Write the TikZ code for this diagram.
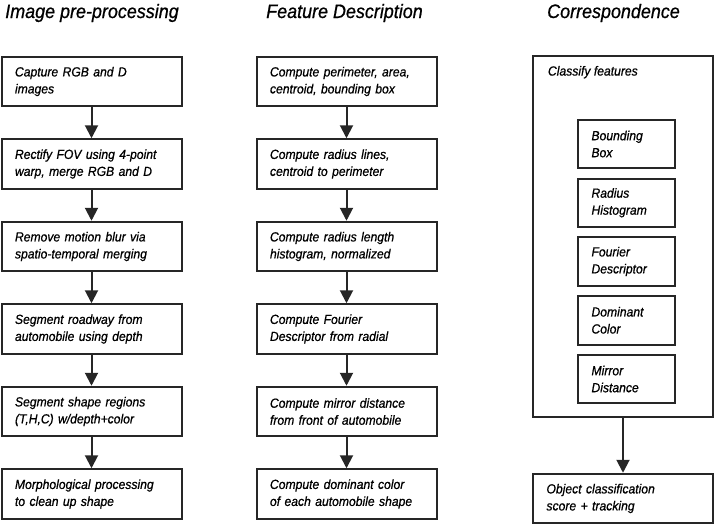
\documentclass[tikz,border=0pt]{standalone}
\usepackage{fontspec}
\setmainfont{Liberation Sans}[FakeStretch=0.92, FakeBold=0.7]
\usetikzlibrary{arrows.meta,positioning}

\begin{document}
\begin{tikzpicture}[
    x = 1pt, y = -1pt, % pixel grid, y pointing down
    > = {Triangle[width=13pt,length=13pt]}, % arrow head style
    node distance = 31pt, % gap between boxes
    line width = 2pt, % line style
    draw = black!85,
    stagebox/.style = {draw, rectangle, minimum width=180pt, minimum height=49.5pt,
        text width=153pt, inner xsep=13.5pt, align=left,
        font=\fontsize{13.2}{17}\selectfont\itshape},
    featbox/.style = {draw, rectangle, minimum width=97pt, minimum height=48.5pt,
        text width=70pt, inner xsep=13.5pt, align=left,
        font=\fontsize{13.2}{17}\selectfont\itshape},
    coltitle/.style = {anchor=base, font=\fontsize{19.5}{22}\selectfont\itshape}
    ]
    \useasboundingbox (0,0) rectangle (715,525);

    % column titles
    \node[coltitle] (pretitle) at (92,18) {Image pre-processing};
    \node[coltitle] (feattitle) at (344.5,18) {Feature Description};
    \node[coltitle] (corrtitle) at (613.5,18) {Correspondence};

    % image pre-processing
    \node[stagebox] (pre1) at (91.5,81.5) {Capture RGB and D\\images};
    \node[stagebox] (pre2) [below=of pre1] {Rectify FOV using 4-point\\warp, merge RGB and D};
    \node[stagebox] (pre3) [below=of pre2] {Remove motion blur via\\spatio-temporal merging};
    \node[stagebox] (pre4) [below=of pre3] {Segment roadway from\\automobile using depth};
    \node[stagebox] (pre5) [below=of pre4] {Segment shape regions\\(T,H,C) w/depth+color};
    \node[stagebox] (pre6) [below=of pre5] {Morphological processing\\to clean up shape};

    % feature description
    \node[stagebox] (feat1) at (346.5,81.5) {Compute perimeter, area,\\centroid, bounding box};
    \node[stagebox] (feat2) [below=of feat1] {Compute radius lines,\\centroid to perimeter};
    \node[stagebox] (feat3) [below=of feat2] {Compute radius length\\histogram, normalized};
    \node[stagebox] (feat4) [below=of feat3] {Compute Fourier\\Descriptor from radial};
    \node[stagebox] (feat5) [below=of feat4] {Compute mirror distance\\from front of automobile};
    \node[stagebox] (feat6) [below=of feat5] {Compute dominant color\\of each automobile shape};

    \foreach \i/\j in {1/2,2/3,3/4,4/5,5/6} {
        \draw[->] (pre\i) -- (pre\j);
        \draw[->] (feat\i) -- (feat\j);
    }

    % correspondence
    \node[draw, rectangle, minimum width=180pt, minimum height=361pt] (classify) at (623,236.5) {};
    \node[anchor=north west, inner sep=0pt, font=\fontsize{13.2}{17}\selectfont\itshape]
        (classlbl) at ([xshift=15pt,yshift=-10pt]classify.north west) {Classify features};
    \node[featbox] (bbox) at (626.5,144) {Bounding\\Box};
    \node[featbox] (radhist) [below=8.25pt of bbox] {Radius\\Histogram};
    \node[featbox] (fourier) [below=8.25pt of radhist] {Fourier\\Descriptor};
    \node[featbox] (domcolor) [below=8.25pt of fourier] {Dominant\\Color};
    \node[featbox] (mirror) [below=8.25pt of domcolor] {Mirror\\Distance};

    \node[stagebox] (score) at (623,498.5) {Object classification\\score + tracking};
    \draw[->] (classify) -- (score);
\end{tikzpicture}
\end{document}
